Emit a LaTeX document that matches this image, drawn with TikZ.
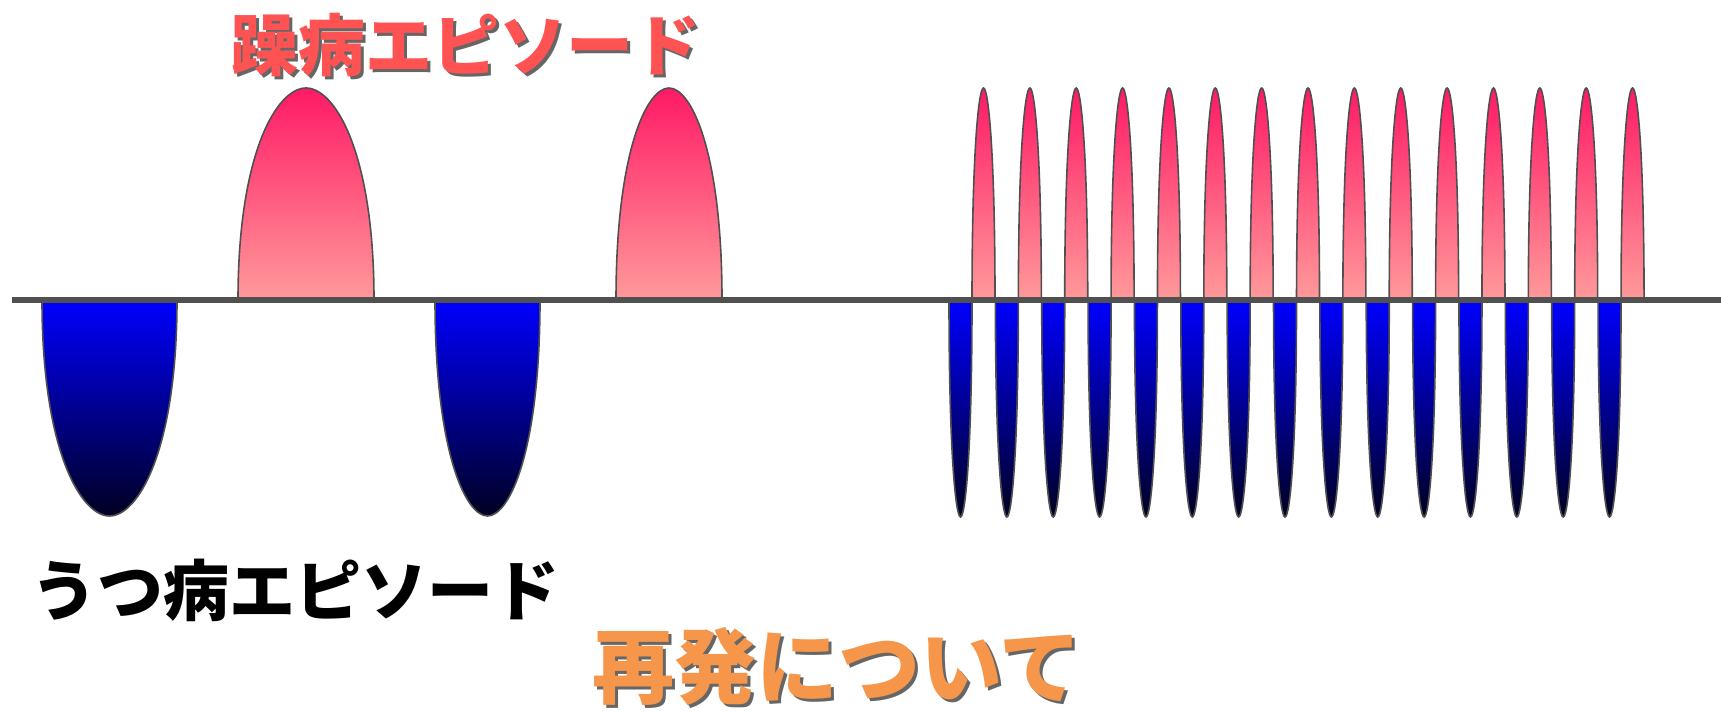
\documentclass[tikz,border=0pt]{standalone}
\usepackage{fontspec}
\newfontfamily\jpfont{Noto Sans CJK JP}
\usetikzlibrary{positioning}
\definecolor{maniaTop}{HTML}{FF1A66}
\definecolor{maniaBase}{HTML}{FF9A9A}
\definecolor{depTop}{HTML}{0000FF}
\definecolor{depBase}{HTML}{000022}
\definecolor{axisGray}{HTML}{505050}
\definecolor{maniaRed}{HTML}{FF5252}
\definecolor{relapseOrange}{HTML}{F5964A}
\tikzset{
  axisline/.style={draw=axisGray, line width=6.5pt},
  lobeline/.style={draw=axisGray, line width=1.6pt},
  mania/.style={lobeline, top color=maniaTop, bottom color=maniaBase},
  dep/.style={lobeline, top color=depTop, bottom color=depBase},
  label/.style={font=\jpfont\bfseries\fontsize{67}{72}\selectfont, inner sep=0pt},
  biglabel/.style={label, font=\jpfont\bfseries\fontsize{82}{88}\selectfont},
  shadowtext/.style={text=black, opacity=0.6},
}
% one episode: left edge, right edge, tip height, style
\newcommand{\lobe}[4]{%
  \pgfmathsetmacro{\lobeMid}{(#1+#2)/2}
  \pgfmathsetmacro{\lobeHalf}{(#2-#1)/2}
  \pgfmathsetmacro{\lobeBend}{300+0.70*(#3-300)}
  \draw[#4] (#1,300) .. controls (#1,\lobeBend) and ({\lobeMid-0.42*\lobeHalf},#3)
    .. (\lobeMid,#3) .. controls ({\lobeMid+0.42*\lobeHalf},#3) and (#2,\lobeBend)
    .. (#2,300) -- cycle;}

\begin{document}
\begin{tikzpicture}[x=1pt, y=-1pt]
\useasboundingbox (0,0) rectangle (1721,711);

% ------------------------------------------------------ the slow course
\lobe{42}{177}{516}{dep}
\lobe{238}{374}{88}{mania}
\lobe{435}{540}{516}{dep}
\lobe{616}{722}{88}{mania}

% ----------------------------------------------------- the rapid course
\foreach \i in {0,...,14}{
  \pgfmathsetmacro{\xa}{949+46.36*\i}
  \pgfmathsetmacro{\xb}{\xa+23}
  \pgfmathsetmacro{\xc}{\xb+23}
  \lobe{\xa}{\xb}{517}{dep}
  \lobe{\xb}{\xc}{88}{mania}}

% ------------------------------------------------------------ the axis
\coordinate (axisStart) at (12,300);
\coordinate (axisEnd) at (1721,300);
\draw[axisline] (axisStart) -- (axisEnd);

% ---------------------------------------------------------- the labels
\node[label, shadowtext] (maniaShadow) at (469,48) {躁病エピソード};
\node[label, text=maniaRed] (mania) at (466,45) {躁病エピソード};
\node[label, font=\jpfont\fontsize{66}{72}\selectfont\bfseries] (depression) at (295,590) {うつ病エピソード};
\node[biglabel, shadowtext] (relapseShadow) at (840,669) {再発について};
\node[biglabel, text=relapseOrange] (relapse) at (837,666) {再発について};

\end{tikzpicture}
\end{document}
